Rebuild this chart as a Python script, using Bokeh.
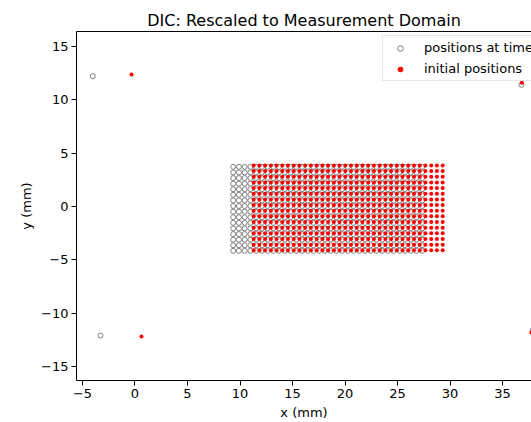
from bokeh.plotting import figure
from bokeh.models import FixedTicker, LinearAxis, CustomJSTickFormatter, Range1d
from bokeh.embed import file_html
from bokeh.resources import INLINE

# ---- data ----
title_text = "DIC: Rescaled to Measurement Domain"
x_label = "x (mm)"
y_label = "y (mm)"
x_ticks = [-5, 0, 5, 10, 15, 20, 25, 30, 35]
y_ticks = [-15, -10, -5, 0, 5, 10, 15]

label_current = "positions at time t"
label_initial = "initial positions"

# initial (red) grid columns / rows in mm
init_cols = [11.30, 11.85, 12.39, 12.94, 13.48, 14.03, 14.57, 15.12, 15.66, 16.21,
             16.75, 17.30, 17.85, 18.39, 18.94, 19.48, 20.03, 20.57, 21.12, 21.66,
             22.21, 22.75, 23.30, 23.85, 24.39, 24.94, 25.48, 26.03, 26.57, 27.12,
             27.66, 28.21, 28.75, 29.30]
init_rows = [3.85, 3.32, 2.79, 2.26, 1.73, 1.20, 0.67, 0.14, -0.39, -0.92,
             -1.45, -1.98, -2.51, -3.04, -3.57, -4.10]
# initial fiducial markers
init_mark_x = [-0.33, 0.62, 36.84, 37.75]
init_mark_y = [12.37, -12.18, 11.59, -11.80]

# current (grey) grid columns / rows in mm
curr_cols = [9.35, 9.90, 10.44, 10.99, 11.53, 12.08, 12.62, 13.17, 13.71, 14.26,
             14.80, 15.35, 15.90, 16.44, 16.99, 17.53, 18.08, 18.62, 19.17, 19.71,
             20.26, 20.80, 21.35, 21.90, 22.44, 22.99, 23.53, 24.08, 24.62, 25.17,
             25.71, 26.26, 26.80, 27.35]
curr_rows = [3.72, 3.20, 2.67, 2.15, 1.62, 1.10, 0.57, 0.05, -0.48, -1.00,
             -1.53, -2.05, -2.58, -3.10, -3.63, -4.15]
# current fiducial markers
curr_mark_x = [-4.02, -3.29, 36.80, 37.90]
curr_mark_y = [12.21, -12.09, 11.40, -11.55]

init_x = init_mark_x + [c for r in init_rows for c in init_cols]
init_y = init_mark_y + [r for r in init_rows for c in init_cols]
curr_x = curr_mark_x + [c for r in curr_rows for c in curr_cols]
curr_y = curr_mark_y + [r for r in curr_rows for c in curr_cols]

FONT = "DejaVu Sans"

p = figure(width=531, height=422, output_backend="svg", toolbar_location=None,
           x_range=Range1d(-5.571, 37.76), y_range=Range1d(-16.3, 16.4),
           min_border_left=76, min_border_right=0, min_border_top=31,
           min_border_bottom=42)
p.background_fill_color = "white"
p.border_fill_color = "white"
p.outline_line_color = None
p.xgrid.visible = False
p.ygrid.visible = False

p.title.text = title_text
p.title.align = "center"
p.title.offset = 8
p.title.text_font = FONT
p.title.text_font_size = "16px"
p.title.text_font_style = "normal"
p.title.text_color = "black"
p.title.standoff = 4

fmt = CustomJSTickFormatter(code="return (tick < 0 ? '\u2212' : '') + Math.abs(tick).toString();")

for ax, ticks, lab in ((p.xaxis[0], x_ticks, x_label), (p.yaxis[0], y_ticks, y_label)):
    ax.ticker = FixedTicker(ticks=ticks)
    ax.formatter = fmt
    ax.axis_label = lab
    ax.axis_label_text_font = FONT
    ax.axis_label_text_font_size = "13px"
    ax.axis_label_text_font_style = "normal"
    ax.axis_label_text_color = "black"
    ax.major_label_text_font = FONT
    ax.major_label_text_font_size = "13px"
    ax.major_label_text_color = "black"
    ax.major_tick_out = 5
    ax.major_tick_in = 0
    ax.minor_tick_out = 0
    ax.minor_tick_in = 0
    ax.axis_line_color = "black"
    ax.major_tick_line_color = "black"
    ax.major_label_standoff = 3
    ax.axis_label_standoff = 4

top_axis = LinearAxis(ticker=FixedTicker(ticks=[]), major_label_text_font_size="0px",
                      major_tick_out=0, major_tick_in=0, minor_tick_out=0, minor_tick_in=0,
                      axis_line_color="black")
p.add_layout(top_axis, "above")

p.scatter(curr_x, curr_y, marker="circle", size=5, fill_color=None,
          line_color="#808080", line_width=1, legend_label=label_current)
p.scatter(init_x, init_y, marker="circle", size=4, fill_color="red",
          line_color=None, legend_label=label_initial)

lg = p.legend[0]
lg.location = (306, 299)
lg.label_text_font = FONT
lg.label_text_font_size = "13px"
lg.label_text_color = "black"
lg.glyph_width = 26
lg.glyph_height = 14
lg.label_height = 14
lg.label_standoff = 11
lg.spacing = 6
lg.padding = 4
lg.margin = 0
lg.border_line_color = "#cccccc"
lg.border_line_width = 1
lg.background_fill_alpha = 0.8

open("out.html", "w").write(file_html(p, INLINE))
